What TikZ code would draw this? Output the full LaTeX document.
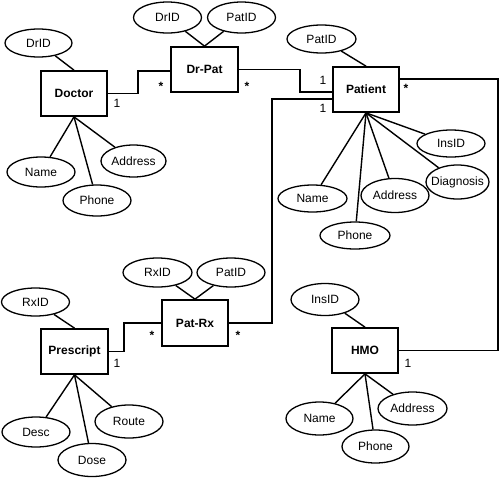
\documentclass[tikz,border=0pt]{standalone}
\usepackage{fontspec}
\setmainfont{Liberation Sans}
\usetikzlibrary{shapes.geometric}
\begin{document}
\begin{tikzpicture}[x=1pt,y=-1pt,
  font=\fontsize{12}{14}\selectfont,
  entity/.style={draw,line width=1.7pt,minimum width=66pt,minimum height=45pt,inner sep=0pt,font=\fontsize{12}{14}\selectfont\bfseries},
  attr/.style={draw,ellipse,line width=1.3pt,inner sep=0pt},
  conn/.style={line width=1.7pt},
  aline/.style={line width=1.4pt},
  card/.style={inner sep=0pt},
  starlab/.style={inner sep=0pt,font=\fontsize{12}{14}\selectfont\bfseries}]
\useasboundingbox (0,0) rectangle (500,477);
\newcommand{\attrnode}[5]{\node[attr,minimum width=#3pt,minimum height=#4pt] (#1) at #2 {\makebox[0pt]{#5}};}
% entities
\node[entity] (doctor) at (74,93.5) {Doctor};
\node[entity,minimum width=67pt] (drpat) at (204.5,69.5) {Dr-Pat};
\node[entity] (patient) at (366,89.5) {Patient};
\node[entity,minimum height=46pt] (patrx) at (195,323) {Pat-Rx};
\node[entity,minimum width=67pt] (prescript) at (74.5,351.5) {Prescript};
\node[entity] (hmo) at (365,350.5) {HMO};
% doctor attributes
\attrnode{drid}{(38.5,43)}{67}{28}{DrID}
\attrnode{dname}{(41,172)}{68}{30}{Name}
\attrnode{dphone}{(97,200.5)}{68}{31}{Phone}
\attrnode{daddr}{(133.5,161)}{65}{32}{Address}
% dr-pat attributes
\attrnode{dpdrid}{(167.5,17.5)}{68}{31}{DrID}
\attrnode{dppatid}{(241.5,17.5)}{68}{31}{PatID}
% patient attributes
\attrnode{ppatid}{(321.5,39)}{69}{28}{PatID}
\attrnode{pinsid}{(451,143.5)}{68}{27}{InsID}
\attrnode{pdiag}{(457.5,182)}{63}{34}{Diagnosis}
\attrnode{paddr}{(395,195.5)}{68}{34}{Address}
\attrnode{pphone}{(355,235.5)}{70}{27}{Phone}
\attrnode{pname}{(312.5,198.5)}{69}{27}{Name}
% pat-rx attributes
\attrnode{prrxid}{(157.5,272.5)}{69}{29}{RxID}
\attrnode{prpatid}{(231,272.5)}{68}{29}{PatID}
% prescript attributes
\attrnode{rxid}{(35.5,302)}{68}{28}{RxID}
\attrnode{desc}{(36,432)}{68}{30}{Desc}
\attrnode{dose}{(92,460)}{68}{33}{Dose}
\attrnode{route}{(129,421.5)}{68}{33}{Route}
% hmo attributes
\attrnode{insid}{(325,299.5)}{68}{32}{InsID}
\attrnode{hname}{(319.5,418.5)}{67}{33}{Name}
\attrnode{hphone}{(375.5,446.5)}{67}{33}{Phone}
\attrnode{haddr}{(412.5,408.5)}{69}{33}{Address}
% attribute lines
\draw[aline] (drid) -- (doctor.north);
\foreach \a in {dname,dphone,daddr} \draw[aline] (doctor.south) -- (\a);
\draw[aline] (dpdrid) -- (drpat.north);
\draw[aline] (dppatid) -- (drpat.north);
\draw[aline] (ppatid) -- (patient.north);
\foreach \a in {pinsid,pdiag,paddr,pphone,pname} \draw[aline] (patient.south) -- (\a);
\draw[aline] (prrxid) -- (patrx.north);
\draw[aline] (prpatid) -- (patrx.north);
\draw[aline] (rxid) -- (prescript.north);
\foreach \a in {desc,dose,route} \draw[aline] (prescript.south) -- (\a);
\draw[aline] (insid) -- (hmo.north);
\foreach \a in {hname,hphone,haddr} \draw[aline] (hmo.south) -- (\a);
% relationship connectors
\coordinate (j1) at (138,71);
\draw[conn] (doctor.east) -| (j1) -- (j1 -| drpat.west);
\coordinate (pw1) at (333,92);
\coordinate (j2) at (300,92);
\draw[conn] (drpat.east) -| (j2) -- (pw1);
\coordinate (pw2) at (333,99);
\coordinate (j3) at (272,99);
\draw[conn] (patrx.east) -| (j3) -- (pw2);
\coordinate (pe) at (399,79);
\coordinate (j4) at (498,79);
\draw[conn] (pe) -- (j4) |- (hmo.east);
\coordinate (j5) at (124,323);
\draw[conn] (prescript.east) -| (j5) -- (patrx.west);
% cardinalities
\node[card] (c1) at (117,103) {1};
\node[starlab] (s1) at (161,86) {*};
\node[starlab] (s2) at (247,86) {*};
\node[card] (c2) at (323,80) {1};
\node[card] (c3) at (323,108) {1};
\node[starlab] (s3) at (406,88) {*};
\node[card] (c4) at (408,363) {1};
\node[card] (c5) at (117,363) {1};
\node[starlab] (s4) at (152,335) {*};
\node[starlab] (s5) at (238,335) {*};
\end{tikzpicture}
\end{document}
